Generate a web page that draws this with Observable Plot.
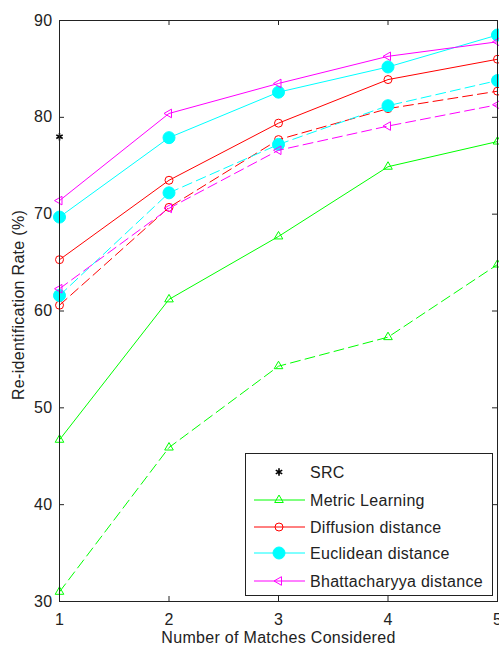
<!DOCTYPE html>
<html><head><meta charset="utf-8">
<script src="https://cdn.jsdelivr.net/npm/d3@7"></script>
<script src="https://cdn.jsdelivr.net/npm/@observablehq/plot@0.6"></script>
<style>
body{margin:0;background:#fff;}
#chart{position:relative;width:499px;height:650px;overflow:hidden;font-family:"Liberation Sans",Arial,sans-serif;}
#chart text{letter-spacing:0.3px;}
#legend{position:absolute;left:245px;top:453px;width:246px;height:141px;border:1px solid #222;background:#fff;}
#legend svg{display:block;}
</style></head><body><div id="chart"></div>
<script>
// ---- data ----
const ranks = [1, 2, 3, 4, 5];
const srcRank = [1];
const srcValue = [78.0];
const metricSolid     = [46.7, 61.2, 67.7, 74.9, 77.5];
const metricDashed    = [31.0, 45.9, 54.3, 57.3, 64.8];
const diffusionSolid  = [65.3, 73.5, 79.4, 83.9, 86.0];
const diffusionDashed = [60.6, 70.7, 77.7, 80.9, 82.7];
const euclidSolid     = [69.7, 77.9, 82.6, 85.2, 88.5];
const euclidDashed    = [61.6, 72.2, 77.2, 81.2, 83.8];
const bhattSolid      = [71.4, 80.4, 83.5, 86.3, 87.8];
const bhattDashed     = [62.3, 70.6, 76.6, 79.1, 81.3];
const legendNames = ["SRC", "Metric Learning", "Diffusion distance", "Euclidean distance", "Bhattacharyya distance"];
const xTicks = [1, 2, 3, 4, 5];
const yTicks = [30, 40, 50, 60, 70, 80, 90];
const xLabel = "Number of Matches Considered";
const yLabel = "Re-identification Rate (%)";

// ---- styles ----
const W = 499, H = 650, mL = 59, mR = 2, mT = 20, mB = 49;
const pw = W - mL - mR, ph = H - mT - mB, tick = 5;
const axisColor = "#222";
const styles = [
  {name: legendNames[1], color: "#00ff00", symbol: "triangle", r: 3.2, fill: "none", rotate: 0, solid: metricSolid, dashed: metricDashed},
  {name: legendNames[2], color: "#ff0000", symbol: "circle", r: 4, fill: "none", rotate: 0, solid: diffusionSolid, dashed: diffusionDashed},
  {name: legendNames[3], color: "#00ffff", symbol: "circle", r: 6, fill: "#00ffff", rotate: 0, solid: euclidSolid, dashed: euclidDashed},
  {name: legendNames[4], color: "#ff00ff", symbol: "triangle", r: 3.2, fill: "none", rotate: -90, solid: bhattSolid, dashed: bhattDashed}
];
const dash = "10,5";

const marks = [];
for (const s of styles) {
  for (const [vals, da] of [[s.solid, null], [s.dashed, dash]]) {
    const rows = ranks.map((x, i) => ({x, y: vals[i]}));
    marks.push(Plot.line(rows, {x: "x", y: "y", stroke: s.color, strokeWidth: 1, strokeDasharray: da}));
    marks.push(Plot.dot(rows, {x: "x", y: "y", symbol: s.symbol, r: s.r, stroke: s.color, fill: s.fill, strokeWidth: 1, rotate: s.rotate}));
  }
}
const srcRows = srcRank.map((x, i) => ({x, y: srcValue[i]}));
marks.push(Plot.dot(srcRows, {x: "x", y: "y", symbol: "asterisk", r: 3.5, stroke: "black", strokeWidth: 1.6}));

const plot = Plot.plot({
  width: W, height: H,
  marginLeft: mL, marginRight: mR, marginTop: mT, marginBottom: mB,
  style: {fontFamily: '"Liberation Sans", Arial, sans-serif', fontSize: "16px", background: "white", overflow: "hidden"},
  x: {domain: [1, 5]},
  y: {domain: [30, 90]},
  marks: [
    // inward ticks
    Plot.ruleY(yTicks, {y: d => d, insetRight: pw - tick, stroke: axisColor}),
    Plot.ruleY(yTicks, {y: d => d, insetLeft: pw - tick, stroke: axisColor}),
    Plot.ruleX(xTicks, {x: d => d, insetTop: ph - tick, stroke: axisColor}),
    Plot.ruleX(xTicks, {x: d => d, insetBottom: ph - tick, stroke: axisColor}),
    Plot.axisY({ticks: yTicks, tickSize: 0, tickPadding: 7, label: null, fill: axisColor, fontSize: 16}),
    Plot.axisX({ticks: xTicks, tickSize: 0, tickPadding: 12, label: null, fill: axisColor, fontSize: 16, tickFormat: d => String(d)}),
    Plot.text([xLabel], {text: d => d, frameAnchor: "bottom", textAnchor: "middle", dy: 41, fill: axisColor, fontSize: 16}),
    Plot.text([yLabel], {text: d => d, frameAnchor: "left", textAnchor: "middle", rotate: -90, dx: -41, dy: -6, fill: axisColor, fontSize: 16}),
    ...marks,
    Plot.frame({stroke: axisColor, strokeWidth: 1})
  ]
});
const chart = document.getElementById("chart");
chart.appendChild(plot);

// ---- legend ----
const leg = d3.select(chart).append("div").attr("id", "legend");
const lsvg = leg.append("svg").attr("width", 246).attr("height", 141)
  .style("font-family", '"Liberation Sans", Arial, sans-serif').style("font-size", "16px");
const rowY = [18, 46, 73, 99, 127];
const symType = {triangle: d3.symbolTriangle, circle: d3.symbolCircle};
// SRC
lsvg.append("path").attr("transform", `translate(33,${rowY[0]})`)
  .attr("d", d3.symbol(d3.symbolAsterisk, Math.PI * 3.5 * 3.5)())
  .attr("stroke", "black").attr("stroke-width", 1.6).attr("fill", "none");
lsvg.append("text").attr("x", 64).attr("y", rowY[0]).attr("dy", "0.35em").attr("fill", axisColor).text(legendNames[0]);
styles.forEach((s, i) => {
  const y = rowY[i + 1];
  lsvg.append("line").attr("x1", 8).attr("x2", 59).attr("y1", y).attr("y2", y).attr("stroke", s.color).attr("stroke-width", 1);
  lsvg.append("path").attr("transform", `translate(33,${y}) rotate(${s.rotate})`)
    .attr("d", d3.symbol(symType[s.symbol], Math.PI * s.r * s.r)())
    .attr("stroke", s.color).attr("fill", s.fill).attr("stroke-width", 1);
  lsvg.append("text").attr("x", 64).attr("y", y).attr("dy", "0.35em").attr("fill", axisColor).text(s.name);
});
</script></body></html>
